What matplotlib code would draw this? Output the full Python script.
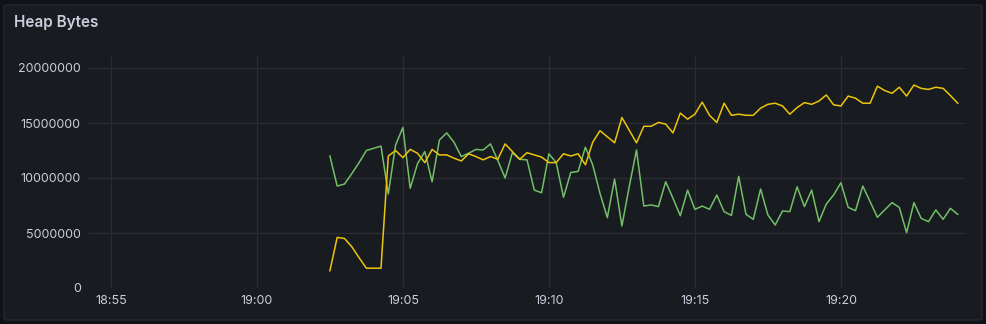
import numpy as np
import pandas as pd
import matplotlib
matplotlib.use("Agg")
import matplotlib.pyplot as plt
import matplotlib.dates as mdates
from matplotlib.patches import FancyBboxPatch

# samples every 15 s, 19:02:30 -> 19:24:00
times = pd.date_range("2024-01-01 19:02:30", periods=87, freq="15s")

# heap bytes, millions
green_m = [12.0, 9.27, 9.45, 10.4, 11.4, 12.5, 12.7, 12.9, 8.55, 13.0,
           14.6, 9.06, 11.3, 12.4, 9.66, 13.45, 14.1, 13.25, 11.95, 12.25,
           12.6, 12.55, 13.1, 11.6, 10.0, 12.3, 11.7, 11.65, 8.9, 8.66,
           12.2, 11.4, 8.24, 10.5, 10.6, 12.8, 11.2, 8.6, 6.4, 9.9,
           5.64, 9.2, 12.55, 7.45, 7.55, 7.4, 9.66, 8.15, 6.57, 8.9,
           7.15, 7.45, 7.15, 8.45, 6.94, 6.6, 10.15, 6.7, 6.24, 9.0,
           6.64, 5.73, 7.0, 6.94, 9.2, 7.4, 8.9, 6.03, 7.64, 8.45,
           9.57, 7.33, 7.03, 9.27, 7.85, 6.43, 7.1, 7.76, 7.33, 5.03,
           7.76, 6.33, 6.03, 7.1, 6.24, 7.24, 6.7]
yellow_m = [1.57, 4.6, 4.5, 3.75, 2.75, 1.8, 1.8, 1.8, 12.0, 12.5,
            11.85, 12.6, 12.25, 11.4, 12.6, 12.1, 12.1, 11.8, 11.55, 12.2,
            11.95, 11.65, 11.95, 11.7, 13.1, 12.4, 11.7, 12.3, 12.1, 11.9,
            11.4, 11.4, 12.2, 12.0, 12.2, 11.2, 13.25, 14.3, 13.75, 13.2,
            15.5, 14.35, 13.2, 14.7, 14.7, 15.05, 14.9, 14.1, 15.9, 15.35,
            15.8, 16.9, 15.7, 15.05, 16.8, 15.7, 15.8, 15.7, 15.7, 16.35,
            16.7, 16.8, 16.55, 15.8, 16.4, 16.85, 16.7, 17.0, 17.55, 16.65,
            16.55, 17.45, 17.25, 16.8, 16.8, 18.35, 17.95, 17.7, 18.25, 17.45,
            18.45, 18.15, 18.05, 18.25, 18.15, 17.5, 16.8]

yticks = [0, 5000000, 10000000, 15000000, 20000000]

BG = "#111217"
PANEL = "#181b1f"
TEXT = "#ccccdc"
GRID = "#2a2c31"

W, H = 986, 324
fig = plt.figure(figsize=(W / 100, H / 100), dpi=100, facecolor=BG)
panel = FancyBboxPatch((4 / W, 4 / H), 978 / W, 315 / H,
                       boxstyle="round,pad=0,rounding_size=0.004",
                       transform=fig.transFigure, facecolor=PANEL,
                       edgecolor="#26282d", linewidth=1, zorder=-10)
fig.patches.append(panel)

fig.text(14 / W, 1 - 22 / H, "Heap Bytes", color=TEXT, fontsize=11,
         family="Inter", weight="semibold", va="center", ha="left")

ax = fig.add_axes([89 / W, 1 - 288 / H, 876 / W, 231 / H])
ax.set_zorder(1)
ax.set_facecolor(PANEL)
ax.plot(times, np.array(green_m) * 1e6, color="#73bf69", lw=1.1)
ax.plot(times, np.array(yellow_m) * 1e6, color="#ecc50a", lw=1.1)

ax.set_xlim(pd.Timestamp("2024-01-01 18:54:15"), pd.Timestamp("2024-01-01 19:24:15"))
ax.set_ylim(0, 21e6)
ax.set_yticks(yticks)
ax.set_yticklabels([str(v) for v in yticks])
ax.xaxis.set_major_locator(mdates.MinuteLocator(byminute=range(0, 60, 5)))
ax.xaxis.set_major_formatter(mdates.DateFormatter("%H:%M"))

ax.grid(True, color=GRID, lw=1)
ax.set_axisbelow(True)
for s in ax.spines.values():
    s.set_visible(False)
ax.tick_params(length=0, colors=TEXT, labelsize=9)
ax.tick_params(axis="y", pad=6)
ax.tick_params(axis="x", pad=5)
for lab in ax.get_xticklabels() + ax.get_yticklabels():
    lab.set_family("Inter")

fig.savefig("out.png", dpi=100, facecolor=BG)
